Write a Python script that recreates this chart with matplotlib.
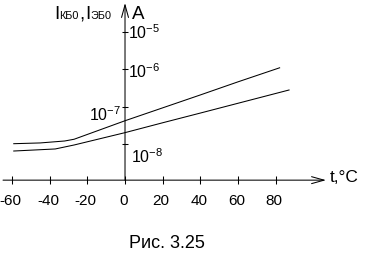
import matplotlib
matplotlib.use('Agg')
import matplotlib.pyplot as plt

plt.rcParams['font.family'] = ['Liberation Sans', 'DejaVu Sans']
plt.rcParams['mathtext.fontset'] = 'custom'
plt.rcParams['mathtext.rm'] = 'Liberation Sans'

# данные
t_ticks = [-60, -40, -20, 0, 20, 40, 60, 80]
i_ticks = [1e-5, 1e-6, 1e-7, 1e-8]
i_labels = ['$\\mathregular{10^{-5}}$', '$\\mathregular{10^{-6}}$',
            '$\\mathregular{10^{-7}}$', '$\\mathregular{10^{-8}}$']

t_kbo = [-59, -45, -32, -27, 0, 20, 40, 60, 82]
i_kbo = [1.05e-8, 1.1e-8, 1.24e-8, 1.38e-8, 4.3e-8, 9.5e-8, 2.1e-7, 4.7e-7, 1.11e-6]

t_ebo = [-59, -37, -27, 0, 20, 40, 60, 87]
i_ebo = [6.7e-9, 7.6e-9, 9.7e-9, 2.07e-8, 3.8e-8, 6.9e-8, 1.26e-7, 2.84e-7]

i_axis = 1.12e-9   # уровень оси t
lw = 0.75
px = 0.72          # пикселей -> пунктов

fig = plt.figure(figsize=(3.69, 2.57), dpi=100)
ax = fig.add_axes([0, 0, 1, 1])
ax.set_xlim(-66.3, 129.4)
ax.set_yscale('log')
ax.set_ylim(1e-11, 10 ** -4.147)
ax.axis('off')

# кривые
ax.plot(t_kbo, i_kbo, color='k', lw=lw)
ax.plot(t_ebo, i_ebo, color='k', lw=lw)

# оси со стрелками
arr = dict(arrowstyle='->,head_length=0.9,head_width=0.25', lw=lw, color='k',
           shrinkA=0, shrinkB=0)
ax.annotate('', xy=(106.6, i_axis), xytext=(-64.7, i_axis), arrowprops=arr)
ax.annotate('', xy=(0, 10 ** -4.227), xytext=(0, i_axis), arrowprops=arr)

# засечки
ax.plot(t_ticks, [i_axis] * len(t_ticks), ls='none', marker='|', ms=8 * px,
        mew=lw, color='k')
ax.plot([0] * len(i_ticks), i_ticks, ls='none', marker='_', ms=6 * px,
        mew=lw, color='k')

for t in t_ticks:
    ax.annotate(str(t), (t, i_axis), xytext=(-1.5 * px, -14 * px),
                textcoords='offset points', ha='center', va='top', fontsize=11)

offs = [(3, -7), (3, -9), (-4, -14), (6, -19)]
for val, lab, (dx, dy) in zip(i_ticks, i_labels, offs):
    ax.annotate(lab, (0, val), xytext=(dx * px, dy * px), textcoords='offset points',
                ha='right' if dx < 0 else 'left', va='baseline', fontsize=11.5)

# подписи
W, H = 369.0, 257.0
def ftext(x, y, s, size):
    fig.text(x / W, 1 - y / H, s, fontsize=size, ha='left', va='baseline')

ftext(54, 19, 'I', 13.5)
ftext(59, 19, 'КБ0', 7.8)
ftext(79.5, 19, ',', 13.5)
ftext(85.5, 19, 'I', 13.5)
ftext(90.5, 19, 'ЭБ0', 7.8)
ftext(132, 19, 'A', 13.5)
ftext(330, 182, 't,°C', 12.5)
fig.text(167 / W, 1 - 248 / H, 'Рис. 3.25', fontsize=13, ha='center', va='baseline')

fig.savefig('out.png', dpi=100)
